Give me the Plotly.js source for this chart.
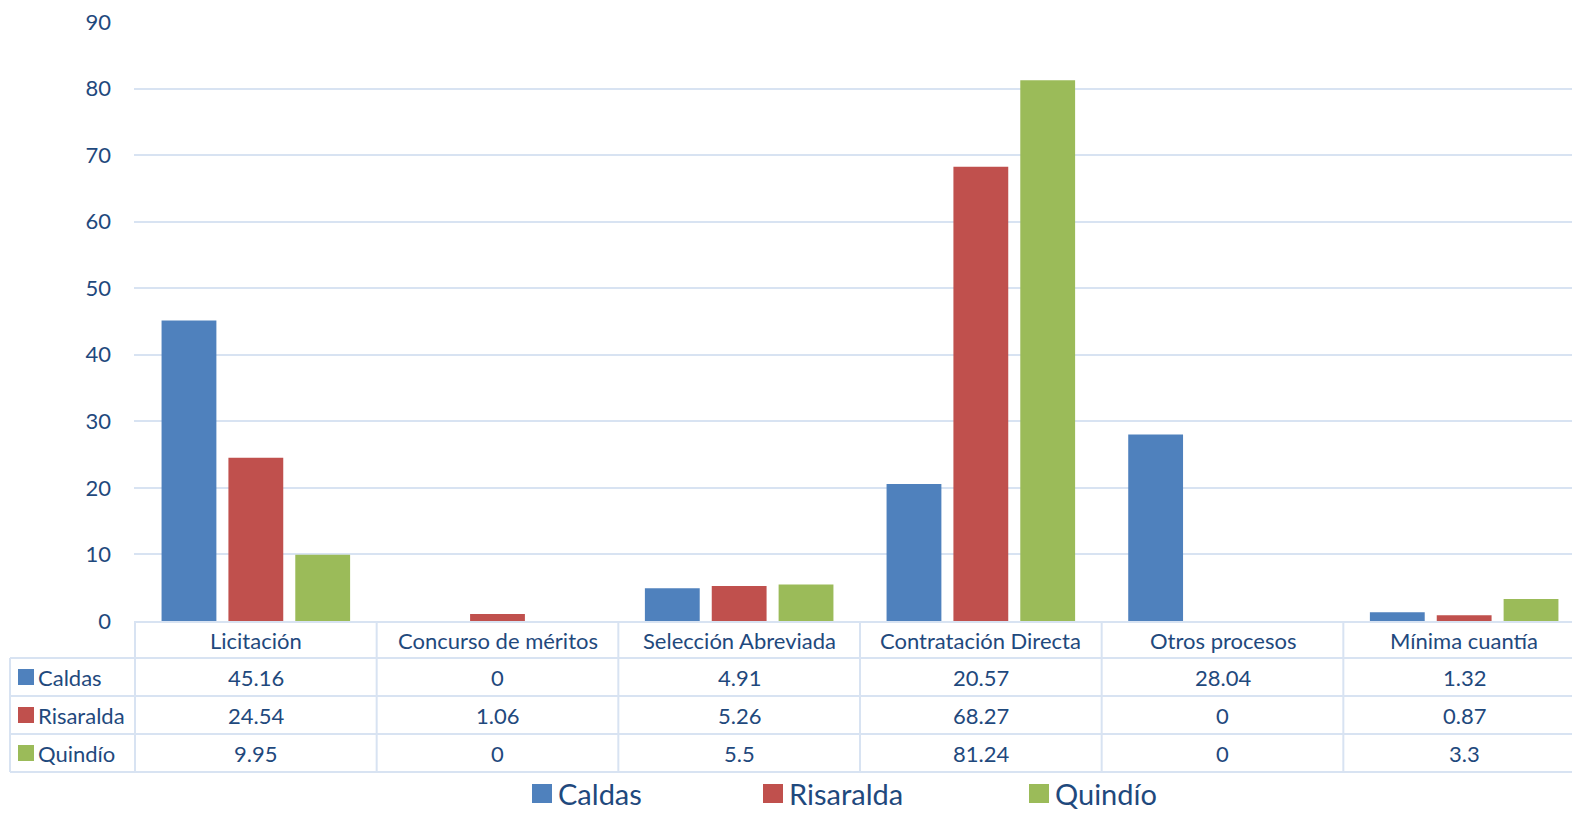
<!DOCTYPE html>
<html>
<head>
<meta charset="utf-8">
<script src="https://cdn.plot.ly/plotly-3.0.1.min.js"></script>
<style>
html,body{margin:0;padding:0;overflow:hidden;background:#fff;width:1572px;height:814px;}
#wrap{width:1572px;height:814px;overflow:hidden;position:relative;}
#chart{width:1590px;height:814px;position:absolute;left:0;top:0;}
</style>
</head>
<body>
<div id="wrap"><div id="chart"></div></div>
<script>
var categories = ['Licitación','Concurso de méritos','Selección Abreviada','Contratación Directa','Otros procesos','Mínima cuantía'];
var seriesNames = ['Caldas','Risaralda','Quindío'];
var caldas = [45.16, 0, 4.91, 20.57, 28.04, 1.32];
var risaralda = [24.54, 1.06, 5.26, 68.27, 0, 0.87];
var quindio = [9.95, 0, 5.5, 81.24, 0, 3.3];
var seriesValues = [caldas, risaralda, quindio];
var seriesColors = ['#4f81bd', '#c0504d', '#9bbb59'];
var yTicks = [0,10,20,30,40,50,60,70,80,90];

var TEXT = '#1f497d';
var LINE = '#d8e3f2';
var FONT = 'Lato, "Open Sans", sans-serif';

var W = 1590, ML = 134, MR = 4, MT = 22, MB = 193, H = 814;
var plotW = W - ML - MR, plotH = H - MT - MB;
function px2x(px){ return (px - ML) / plotW; }
function py2y(py){ return (H - MB - py) / plotH; }

var traces = seriesNames.map(function(n, i){
  return {
    type: 'bar', name: n, x: categories, y: seriesValues[i],
    marker: {color: seriesColors[i]}, hoverinfo: 'x+y+name'
  };
});

var shapes = [], annotations = [];
var rowEdges = [622, 658, 696, 734, 772];
shapes.push({type:'line', xref:'paper', yref:'paper', x0:0, x1:1, y0:py2y(rowEdges[0]), y1:py2y(rowEdges[0]), line:{color:LINE, width:2}});
for (var r = 1; r < rowEdges.length; r++) {
  shapes.push({type:'line', xref:'paper', yref:'paper', x0:px2x(10), x1:1, y0:py2y(rowEdges[r]), y1:py2y(rowEdges[r]), line:{color:LINE, width:2}});
}
shapes.push({type:'line', xref:'paper', yref:'paper', x0:px2x(10), x1:px2x(10), y0:py2y(658), y1:py2y(772), line:{color:LINE, width:2}});
for (var c = 0; c <= categories.length; c++) {
  shapes.push({type:'line', xref:'x', yref:'paper', x0:c-0.5, x1:c-0.5, y0:py2y(622), y1:py2y(772), line:{color:LINE, width:2}});
}
categories.forEach(function(cat){
  annotations.push({xref:'x', yref:'paper', x:cat, y:py2y(640), text:cat, showarrow:false, xanchor:'center', yanchor:'middle', font:{family:FONT, size:22, color:TEXT}});
});
var rowCenters = [677, 715, 753];
seriesNames.forEach(function(n, i){
  var yc = rowCenters[i];
  shapes.push({type:'rect', xref:'paper', yref:'paper', x0:px2x(18), x1:px2x(34), y0:py2y(yc+8), y1:py2y(yc-8), fillcolor:seriesColors[i], line:{width:0}});
  annotations.push({xref:'paper', yref:'paper', x:px2x(36), y:py2y(yc), text:n, showarrow:false, xanchor:'left', yanchor:'middle', font:{family:FONT, size:22, color:TEXT}});
  seriesValues[i].forEach(function(v, j){
    annotations.push({xref:'x', yref:'paper', x:categories[j], y:py2y(yc), text:String(v), showarrow:false, xanchor:'center', yanchor:'middle', font:{family:FONT, size:22, color:TEXT}});
  });
});

// bottom legend
var legendKeyX = [532, 763, 1029];
seriesNames.forEach(function(n, i){
  var x0 = legendKeyX[i];
  shapes.push({type:'rect', xref:'paper', yref:'paper', x0:px2x(x0), x1:px2x(x0+20), y0:py2y(803), y1:py2y(784), fillcolor:seriesColors[i], line:{width:0}});
  annotations.push({xref:'paper', yref:'paper', x:px2x(x0+24), y:py2y(793), text:n, showarrow:false, xanchor:'left', yanchor:'middle', font:{family:FONT, size:29, color:TEXT}});
});

var layout = {
  width: W, height: H,
  margin: {l: ML, r: MR, t: MT, b: MB, pad: 0},
  paper_bgcolor: '#fff', plot_bgcolor: '#fff',
  barmode: 'group', bargap: 0.17, bargroupgap: 0.18,
  font: {family: FONT, color: TEXT},
  xaxis: {type:'category', showticklabels:false, showgrid:false, zeroline:false, showline:false, ticks:'', fixedrange:true},
  yaxis: {range:[0,90], tickvals:yTicks, showgrid:true, gridcolor:LINE, gridwidth:2, zeroline:false, showline:false, ticks:'', ticklabelstandoff:22, tickfont:{family:FONT, size:22, color:TEXT}},
  showlegend: false,
  shapes: shapes, annotations: annotations
};

Plotly.newPlot('chart', traces, layout, {displayModeBar:false, staticPlot:true});
</script>
</body>
</html>
